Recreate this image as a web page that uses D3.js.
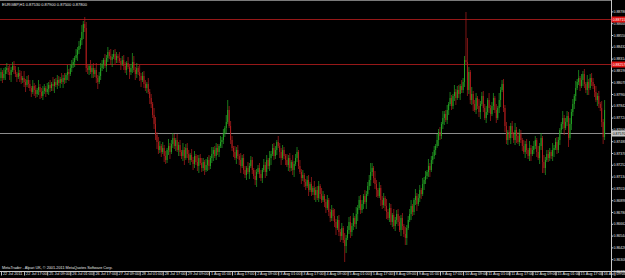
<!DOCTYPE html>
<html><head><meta charset="utf-8">
<script src="https://cdn.jsdelivr.net/npm/d3@7"></script>
<style>html,body{margin:0;padding:0;background:#000;overflow:hidden}svg{display:block}</style>
</head><body><svg id="c" width="625" height="278"></svg>
<script>
const symbolTitle = "EURGBP,H1  0.87530 0.87900 0.87500 0.87800";
const copyright = "MetaTrader - Alpari UK, \u00A9 2001-2011 MetaQuotes Software Corp.";
const openP = [0.8812,0.8818,0.8812,0.8816,0.8820,0.8822,0.8818,0.8815,0.8820,0.8824,
0.8820,0.8816,0.8813,0.8817,0.8814,0.8810,0.8812,0.8808,0.8805,0.8810,
0.8806,0.8802,0.8798,0.8804,0.8800,0.8796,0.8800,0.8803,0.8798,0.8794,
0.8799,0.8802,0.8798,0.8801,0.8805,0.8802,0.8806,0.8804,0.8808,0.8805,
0.8810,0.8807,0.8811,0.8808,0.8812,0.8810,0.8815,0.8818,0.8816,0.8822,
0.8825,0.8828,0.8832,0.8835,0.8840,0.8844,0.8850,0.8858,0.8866,0.8862,
0.8822,0.8820,0.8824,0.8818,0.8822,0.8816,0.8820,0.8812,0.8808,0.8814,
0.8822,0.8826,0.8830,0.8824,0.8832,0.8838,0.8834,0.8830,0.8833,0.8836,
0.8830,0.8834,0.8832,0.8829,0.8826,0.8830,0.8824,0.8820,0.8827,0.8823,
0.8818,0.8822,0.8828,0.8820,0.8816,0.8822,0.8818,0.8814,0.8810,0.8814,
0.8806,0.8802,0.8806,0.8798,0.8792,0.8786,0.8775,0.8766,0.8755,0.8748,
0.8740,0.8744,0.8738,0.8742,0.8734,0.8730,0.8740,0.8744,0.8738,0.8746,
0.8752,0.8744,0.8750,0.8740,0.8745,0.8738,0.8734,0.8740,0.8732,0.8742,
0.8736,0.8730,0.8735,0.8730,0.8726,0.8734,0.8728,0.8724,0.8732,0.8727,
0.8722,0.8728,0.8720,0.8725,0.8730,0.8724,0.8732,0.8736,0.8740,0.8734,
0.8742,0.8738,0.8744,0.8748,0.8750,0.8756,0.8762,0.8768,0.8780,0.8764,
0.8750,0.8742,0.8738,0.8732,0.8740,0.8734,0.8730,0.8724,0.8732,0.8720,
0.8715,0.8722,0.8718,0.8724,0.8730,0.8720,0.8714,0.8710,0.8718,0.8722,
0.8716,0.8712,0.8720,0.8725,0.8718,0.8730,0.8724,0.8732,0.8736,0.8742,
0.8734,0.8740,0.8748,0.8744,0.8738,0.8732,0.8740,0.8734,0.8730,0.8725,
0.8732,0.8722,0.8728,0.8720,0.8726,0.8732,0.8738,0.8724,0.8718,0.8712,
0.8715,0.8708,0.8704,0.8710,0.8700,0.8706,0.8698,0.8702,0.8695,0.8700,
0.8692,0.8704,0.8696,0.8690,0.8694,0.8688,0.8682,0.8690,0.8678,0.8672,
0.8680,0.8674,0.8668,0.8662,0.8670,0.8658,0.8654,0.8662,0.8650,0.8644,
0.8652,0.8660,0.8668,0.8658,0.8664,0.8672,0.8666,0.8676,0.8682,0.8690,
0.8680,0.8686,0.8694,0.8688,0.8696,0.8704,0.8710,0.8718,0.8722,0.8712,
0.8706,0.8700,0.8694,0.8702,0.8690,0.8685,0.8692,0.8684,0.8678,0.8672,
0.8682,0.8668,0.8675,0.8664,0.8670,0.8676,0.8668,0.8660,0.8672,0.8664,
0.8656,0.8652,0.8662,0.8670,0.8676,0.8684,0.8678,0.8690,0.8694,0.8686,
0.8692,0.8700,0.8696,0.8706,0.8710,0.8714,0.8718,0.8724,0.8720,0.8730,
0.8734,0.8740,0.8744,0.8750,0.8758,0.8754,0.8766,0.8772,0.8776,0.8770,
0.8780,0.8786,0.8792,0.8784,0.8794,0.8798,0.8792,0.8800,0.8796,0.8804,
0.8800,0.8808,0.8830,0.8828,0.8800,0.8818,0.8790,0.8796,0.8786,0.8780,
0.8792,0.8784,0.8778,0.8786,0.8794,0.8782,0.8772,0.8778,0.8790,0.8782,
0.8776,0.8784,0.8792,0.8780,0.8772,0.8782,0.8790,0.8800,0.8806,0.8782,
0.8764,0.8750,0.8758,0.8752,0.8764,0.8756,0.8750,0.8760,0.8754,0.8748,
0.8756,0.8750,0.8744,0.8738,0.8746,0.8740,0.8734,0.8742,0.8736,0.8740,
0.8744,0.8750,0.8738,0.8732,0.8744,0.8752,0.8728,0.8722,0.8730,0.8736,
0.8732,0.8738,0.8734,0.8740,0.8742,0.8748,0.8740,0.8750,0.8760,0.8766,
0.8772,0.8762,0.8768,0.8774,0.8752,0.8766,0.8778,0.8786,0.8794,0.8802,
0.8808,0.8812,0.8804,0.8810,0.8816,0.8806,0.8800,0.8808,0.8802,0.8812,
0.8808,0.8804,0.8798,0.8790,0.8794,0.8786,0.8782,0.8768,0.8753];
const highP = [0.8822,0.8820,0.8822,0.8823,0.8827,0.8824,0.8825,0.8823,0.8828,0.8829,
0.8824,0.8818,0.8823,0.8820,0.8819,0.8814,0.8819,0.8811,0.8814,0.8815,
0.8810,0.8804,0.8810,0.8807,0.8805,0.8802,0.8810,0.8806,0.8802,0.8804,
0.8806,0.8804,0.8807,0.8808,0.8810,0.8808,0.8813,0.8811,0.8812,0.8815,
0.8814,0.8813,0.8817,0.8815,0.8817,0.8817,0.8825,0.8821,0.8826,0.8830,
0.8832,0.8834,0.8841,0.8843,0.8849,0.8852,0.8865,0.8869,0.8873,0.8868,
0.8826,0.8826,0.8830,0.8825,0.8827,0.8822,0.8827,0.8815,0.8818,0.8827,
0.8830,0.8832,0.8836,0.8835,0.8843,0.8840,0.8841,0.8836,0.8840,0.8841,
0.8838,0.8836,0.8838,0.8832,0.8834,0.8835,0.8828,0.8829,0.8833,0.8826,
0.8826,0.8837,0.8834,0.8823,0.8827,0.8824,0.8825,0.8817,0.8818,0.8819,
0.8810,0.8808,0.8812,0.8801,0.8796,0.8788,0.8782,0.8773,0.8758,0.8753,
0.8749,0.8746,0.8748,0.8745,0.8739,0.8742,0.8751,0.8747,0.8750,0.8757,
0.8756,0.8752,0.8756,0.8748,0.8750,0.8740,0.8747,0.8743,0.8746,0.8747,
0.8740,0.8737,0.8741,0.8733,0.8739,0.8736,0.8735,0.8735,0.8736,0.8732,
0.8732,0.8730,0.8731,0.8733,0.8735,0.8734,0.8743,0.8743,0.8744,0.8747,
0.8746,0.8746,0.8754,0.8753,0.8761,0.8764,0.8775,0.8790,0.8784,0.8769,
0.8754,0.8744,0.8744,0.8743,0.8745,0.8736,0.8737,0.8735,0.8736,0.8724,
0.8724,0.8728,0.8727,0.8734,0.8733,0.8722,0.8720,0.8721,0.8725,0.8727,
0.8720,0.8722,0.8731,0.8728,0.8735,0.8732,0.8739,0.8739,0.8746,0.8747,
0.8744,0.8750,0.8754,0.8747,0.8742,0.8745,0.8743,0.8736,0.8736,0.8735,
0.8737,0.8730,0.8735,0.8729,0.8736,0.8743,0.8740,0.8730,0.8721,0.8720,
0.8717,0.8711,0.8714,0.8715,0.8708,0.8713,0.8704,0.8709,0.8703,0.8704,
0.8709,0.8706,0.8702,0.8699,0.8696,0.8691,0.8695,0.8692,0.8681,0.8685,
0.8682,0.8681,0.8671,0.8674,0.8675,0.8661,0.8667,0.8664,0.8657,0.8655,
0.8664,0.8673,0.8674,0.8667,0.8677,0.8674,0.8683,0.8685,0.8694,0.8695,
0.8690,0.8696,0.8700,0.8699,0.8708,0.8715,0.8727,0.8727,0.8724,0.8719,
0.8710,0.8702,0.8708,0.8705,0.8694,0.8697,0.8694,0.8691,0.8681,0.8687,
0.8686,0.8677,0.8681,0.8673,0.8680,0.8681,0.8674,0.8675,0.8677,0.8666,
0.8663,0.8665,0.8674,0.8681,0.8690,0.8686,0.8692,0.8701,0.8697,0.8696,
0.8705,0.8702,0.8712,0.8713,0.8719,0.8720,0.8731,0.8727,0.8734,0.8738,
0.8744,0.8746,0.8756,0.8761,0.8763,0.8768,0.8779,0.8779,0.8780,0.8785,
0.8788,0.8798,0.8795,0.8796,0.8805,0.8801,0.8804,0.8805,0.8806,0.8810,
0.8812,0.8834,0.8878,0.8852,0.8823,0.8820,0.8803,0.8799,0.8790,0.8797,
0.8794,0.8791,0.8789,0.8798,0.8799,0.8786,0.8784,0.8792,0.8797,0.8785,
0.8788,0.8797,0.8794,0.8786,0.8784,0.8797,0.8803,0.8810,0.8811,0.8785,
0.8768,0.8760,0.8764,0.8767,0.8769,0.8758,0.8767,0.8763,0.8758,0.8761,
0.8760,0.8752,0.8750,0.8749,0.8751,0.8742,0.8749,0.8745,0.8744,0.8749,
0.8754,0.8752,0.8744,0.8747,0.8757,0.8754,0.8735,0.8733,0.8740,0.8740,
0.8742,0.8740,0.8747,0.8745,0.8752,0.8753,0.8753,0.8762,0.8768,0.8779,
0.8775,0.8772,0.8779,0.8778,0.8772,0.8781,0.8791,0.8796,0.8809,0.8811,
0.8820,0.8814,0.8816,0.8819,0.8821,0.8808,0.8815,0.8811,0.8816,0.8817,
0.8812,0.8806,0.8804,0.8797,0.8799,0.8788,0.8789,0.8771,0.8790];
const lowP = [0.8809,0.8807,0.8810,0.8810,0.8816,0.8815,0.8810,0.8808,0.8818,0.8816,
0.8813,0.8808,0.8811,0.8808,0.8806,0.8807,0.8803,0.8798,0.8803,0.8802,
0.8799,0.8793,0.8796,0.8794,0.8792,0.8793,0.8795,0.8791,0.8792,0.8790,
0.8796,0.8793,0.8796,0.8795,0.8798,0.8799,0.8799,0.8797,0.8803,0.8801,
0.8804,0.8802,0.8806,0.8802,0.8806,0.8807,0.8810,0.8809,0.8814,0.8818,
0.8822,0.8823,0.8830,0.8829,0.8836,0.8841,0.8845,0.8851,0.8858,0.8818,
0.8816,0.8815,0.8816,0.8812,0.8812,0.8813,0.8807,0.8801,0.8806,0.8810,
0.8819,0.8821,0.8822,0.8818,0.8828,0.8831,0.8825,0.8823,0.8831,0.8826,
0.8827,0.8827,0.8827,0.8820,0.8824,0.8820,0.8817,0.8815,0.8821,0.8811,
0.8815,0.8817,0.8818,0.8810,0.8812,0.8815,0.8809,0.8803,0.8808,0.8802,
0.8799,0.8797,0.8796,0.8786,0.8782,0.8772,0.8761,0.8750,0.8741,0.8736,
0.8737,0.8733,0.8736,0.8728,0.8726,0.8727,0.8735,0.8731,0.8736,0.8742,
0.8741,0.8739,0.8738,0.8734,0.8734,0.8731,0.8729,0.8725,0.8730,0.8732,
0.8727,0.8725,0.8728,0.8720,0.8722,0.8725,0.8719,0.8717,0.8725,0.8718,
0.8719,0.8715,0.8718,0.8719,0.8720,0.8721,0.8727,0.8729,0.8732,0.8730,
0.8735,0.8733,0.8742,0.8742,0.8746,0.8753,0.8757,0.8766,0.8762,0.8746,
0.8739,0.8733,0.8730,0.8726,0.8731,0.8725,0.8717,0.8722,0.8716,0.8712,
0.8710,0.8716,0.8711,0.8722,0.8716,0.8711,0.8705,0.8703,0.8716,0.8712,
0.8709,0.8707,0.8718,0.8712,0.8714,0.8721,0.8719,0.8725,0.8734,0.8730,
0.8731,0.8735,0.8742,0.8732,0.8725,0.8730,0.8731,0.8725,0.8723,0.8719,
0.8718,0.8719,0.8715,0.8713,0.8724,0.8728,0.8721,0.8716,0.8706,0.8709,
0.8703,0.8700,0.8702,0.8694,0.8698,0.8694,0.8695,0.8690,0.8688,0.8690,
0.8688,0.8691,0.8687,0.8688,0.8683,0.8677,0.8680,0.8674,0.8668,0.8669,
0.8669,0.8663,0.8655,0.8660,0.8654,0.8648,0.8650,0.8647,0.8628,0.8637,
0.8650,0.8656,0.8652,0.8654,0.8660,0.8663,0.8661,0.8669,0.8680,0.8676,
0.8677,0.8681,0.8686,0.8681,0.8694,0.8700,0.8704,0.8714,0.8707,0.8701,
0.8693,0.8692,0.8692,0.8684,0.8681,0.8682,0.8679,0.8671,0.8670,0.8668,
0.8665,0.8663,0.8661,0.8659,0.8666,0.8664,0.8658,0.8654,0.8660,0.8653,
0.8645,0.8645,0.8660,0.8668,0.8670,0.8674,0.8675,0.8685,0.8679,0.8684,
0.8688,0.8691,0.8694,0.8700,0.8706,0.8711,0.8713,0.8713,0.8718,0.8726,
0.8731,0.8735,0.8742,0.8744,0.8750,0.8751,0.8761,0.8765,0.8768,0.8766,
0.8775,0.8784,0.8780,0.8781,0.8789,0.8785,0.8790,0.8792,0.8790,0.8797,
0.8797,0.8803,0.8826,0.8794,0.8796,0.8786,0.8785,0.8779,0.8778,0.8776,
0.8781,0.8773,0.8771,0.8784,0.8778,0.8770,0.8767,0.8775,0.8777,0.8769,
0.8774,0.8780,0.8777,0.8767,0.8770,0.8777,0.8783,0.8798,0.8778,0.8758,
0.8746,0.8745,0.8750,0.8746,0.8752,0.8747,0.8745,0.8747,0.8746,0.8744,
0.8747,0.8739,0.8736,0.8732,0.8736,0.8731,0.8729,0.8729,0.8734,0.8736,
0.8741,0.8733,0.8730,0.8726,0.8740,0.8717,0.8717,0.8715,0.8728,0.8728,
0.8729,0.8731,0.8729,0.8733,0.8740,0.8736,0.8737,0.8745,0.8757,0.8761,
0.8755,0.8760,0.8764,0.8743,0.8750,0.8760,0.8774,0.8781,0.8789,0.8800,
0.8805,0.8799,0.8802,0.8804,0.8802,0.8797,0.8795,0.8795,0.8800,0.8804,
0.8801,0.8793,0.8788,0.8784,0.8782,0.8779,0.8763,0.8746,0.8750];
const closeP = [0.8818,0.8812,0.8816,0.8820,0.8822,0.8818,0.8815,0.8820,0.8824,0.8820,
0.8816,0.8813,0.8817,0.8814,0.8810,0.8812,0.8808,0.8805,0.8810,0.8806,
0.8802,0.8798,0.8804,0.8800,0.8796,0.8800,0.8803,0.8798,0.8794,0.8799,
0.8802,0.8798,0.8801,0.8805,0.8802,0.8806,0.8804,0.8808,0.8805,0.8810,
0.8807,0.8811,0.8808,0.8812,0.8810,0.8815,0.8818,0.8816,0.8822,0.8825,
0.8828,0.8832,0.8835,0.8840,0.8844,0.8850,0.8858,0.8866,0.8862,0.8822,
0.8820,0.8824,0.8818,0.8822,0.8816,0.8820,0.8812,0.8808,0.8814,0.8822,
0.8826,0.8830,0.8824,0.8832,0.8838,0.8834,0.8830,0.8833,0.8836,0.8830,
0.8834,0.8832,0.8829,0.8826,0.8830,0.8824,0.8820,0.8827,0.8823,0.8818,
0.8822,0.8828,0.8820,0.8816,0.8822,0.8818,0.8814,0.8810,0.8814,0.8806,
0.8802,0.8806,0.8798,0.8792,0.8786,0.8775,0.8766,0.8755,0.8748,0.8740,
0.8744,0.8738,0.8742,0.8734,0.8730,0.8740,0.8744,0.8738,0.8746,0.8752,
0.8744,0.8750,0.8740,0.8745,0.8738,0.8734,0.8740,0.8732,0.8742,0.8736,
0.8730,0.8735,0.8730,0.8726,0.8734,0.8728,0.8724,0.8732,0.8727,0.8722,
0.8728,0.8720,0.8725,0.8730,0.8724,0.8732,0.8736,0.8740,0.8734,0.8742,
0.8738,0.8744,0.8748,0.8750,0.8756,0.8762,0.8768,0.8780,0.8764,0.8750,
0.8742,0.8738,0.8732,0.8740,0.8734,0.8730,0.8724,0.8732,0.8720,0.8715,
0.8722,0.8718,0.8724,0.8730,0.8720,0.8714,0.8710,0.8718,0.8722,0.8716,
0.8712,0.8720,0.8725,0.8718,0.8730,0.8724,0.8732,0.8736,0.8742,0.8734,
0.8740,0.8748,0.8744,0.8738,0.8732,0.8740,0.8734,0.8730,0.8725,0.8732,
0.8722,0.8728,0.8720,0.8726,0.8732,0.8738,0.8724,0.8718,0.8712,0.8715,
0.8708,0.8704,0.8710,0.8700,0.8706,0.8698,0.8702,0.8695,0.8700,0.8692,
0.8704,0.8696,0.8690,0.8694,0.8688,0.8682,0.8690,0.8678,0.8672,0.8680,
0.8674,0.8668,0.8662,0.8670,0.8658,0.8654,0.8662,0.8650,0.8644,0.8652,
0.8660,0.8668,0.8658,0.8664,0.8672,0.8666,0.8676,0.8682,0.8690,0.8680,
0.8686,0.8694,0.8688,0.8696,0.8704,0.8710,0.8718,0.8722,0.8712,0.8706,
0.8700,0.8694,0.8702,0.8690,0.8685,0.8692,0.8684,0.8678,0.8672,0.8682,
0.8668,0.8675,0.8664,0.8670,0.8676,0.8668,0.8660,0.8672,0.8664,0.8656,
0.8652,0.8662,0.8670,0.8676,0.8684,0.8678,0.8690,0.8694,0.8686,0.8692,
0.8700,0.8696,0.8706,0.8710,0.8714,0.8718,0.8724,0.8720,0.8730,0.8734,
0.8740,0.8744,0.8750,0.8758,0.8754,0.8766,0.8772,0.8776,0.8770,0.8780,
0.8786,0.8792,0.8784,0.8794,0.8798,0.8792,0.8800,0.8796,0.8804,0.8800,
0.8808,0.8830,0.8828,0.8800,0.8818,0.8790,0.8796,0.8786,0.8780,0.8792,
0.8784,0.8778,0.8786,0.8794,0.8782,0.8772,0.8778,0.8790,0.8782,0.8776,
0.8784,0.8792,0.8780,0.8772,0.8782,0.8790,0.8800,0.8806,0.8782,0.8764,
0.8750,0.8758,0.8752,0.8764,0.8756,0.8750,0.8760,0.8754,0.8748,0.8756,
0.8750,0.8744,0.8738,0.8746,0.8740,0.8734,0.8742,0.8736,0.8740,0.8744,
0.8750,0.8738,0.8732,0.8744,0.8752,0.8728,0.8722,0.8730,0.8736,0.8732,
0.8738,0.8734,0.8740,0.8742,0.8748,0.8740,0.8750,0.8760,0.8766,0.8772,
0.8762,0.8768,0.8774,0.8752,0.8766,0.8778,0.8786,0.8794,0.8802,0.8808,
0.8812,0.8804,0.8810,0.8816,0.8806,0.8800,0.8808,0.8802,0.8812,0.8808,
0.8804,0.8798,0.8790,0.8794,0.8786,0.8782,0.8768,0.8753,0.8780];

const timeTickIndex = [0,16,32,48,64,80,96,112,128,144,160,176,192,208,224,240,256,272,288,304,320,336,352,368,384,400,416];
const timeLabels = ["22 Jul 2011","22 Jul 17:00","25 Jul 09:00","26 Jul 01:00","26 Jul 17:00","27 Jul 09:00","28 Jul 01:00","28 Jul 17:00","29 Jul 09:00","1 Aug 01:00","1 Aug 17:00","2 Aug 09:00","3 Aug 01:00","3 Aug 17:00","4 Aug 09:00","5 Aug 01:00","5 Aug 17:00","8 Aug 09:00","9 Aug 01:00","9 Aug 17:00","10 Aug 09:00","11 Aug 01:00","11 Aug 17:00","12 Aug 09:00","15 Aug 01:00","15 Aug 17:00","16 Aug 09:00"];
const priceTicks = [0.86190,0.86308,0.86426,0.86544,0.86662,0.86780,0.86898,0.87016,0.87134,0.87252,0.87370,0.87488,0.87606,0.87724,0.87842,0.87960,0.88078,0.88196,0.88314,0.88432,0.88550,0.88668,0.88786];
const redLevels = [0.88715, 0.88257];
const bidLevel = 0.87570;

const FONT = "'Liberation Sans', Arial, sans-serif";
const svg = d3.select("#c");
const plotR = 611.5, plotB = 271.5;
const x = d3.scaleLinear().domain([0, closeP.length - 1]).range([1, 604.6]);
const y = d3.scaleLinear().domain([0.8619, 0.8890]).range([271, 0]);

svg.append("rect").attr("width", 625).attr("height", 278).attr("fill", "#000");
svg.append("defs").append("clipPath").attr("id", "pc")
  .append("rect").attr("x", 0).attr("y", 0).attr("width", plotR).attr("height", plotB);

const bars = closeP.map((c, i) => ({i, o: openP[i], h: highP[i], l: lowP[i], c}));
const UP = "#25a825", DOWN = "#b41e1e";
const g = svg.append("g").attr("clip-path", "url(#pc)");

// horizontal level lines
g.selectAll("line.red").data(redLevels).join("line")
  .attr("x1", 0).attr("x2", plotR).attr("y1", d => Math.round(y(d)) + 0.5).attr("y2", d => Math.round(y(d)) + 0.5)
  .attr("stroke", "#961818").attr("stroke-width", 1);
g.append("line").attr("x1", 0).attr("x2", plotR)
  .attr("y1", Math.round(y(bidLevel)) + 0.5).attr("y2", Math.round(y(bidLevel)) + 0.5)
  .attr("stroke", "#8c8c8c").attr("stroke-width", 1);

const cg = g.selectAll("g.bar").data(bars).join("g");
cg.append("line")
  .attr("x1", d => x(d.i)).attr("x2", d => x(d.i))
  .attr("y1", d => y(d.h)).attr("y2", d => y(d.l))
  .attr("stroke", d => d.c >= d.o ? UP : DOWN).attr("stroke-width", 0.7);
cg.append("rect")
  .attr("x", d => x(d.i) - 0.45).attr("width", 0.9)
  .attr("y", d => y(Math.max(d.o, d.c)))
  .attr("height", d => Math.max(0.8, Math.abs(y(d.o) - y(d.c))))
  .attr("fill", d => d.c >= d.o ? UP : DOWN);

// frame
svg.append("line").attr("x1", 0).attr("x2", plotR).attr("y1", 0.5).attr("y2", 0.5).attr("stroke", "#7a7a7a");
svg.append("line").attr("x1", plotR).attr("x2", plotR).attr("y1", 0).attr("y2", 278).attr("stroke", "#c8c8c8");
svg.append("line").attr("x1", 0).attr("x2", 625).attr("y1", plotB).attr("y2", plotB).attr("stroke", "#c8c8c8");

// right price axis
const ya = svg.append("g").attr("transform", `translate(${plotR},0)`)
  .call(d3.axisRight(y).tickValues(priceTicks).tickSize(1.5).tickPadding(0.5).tickFormat(d3.format(".5f")));
ya.select(".domain").remove();
ya.selectAll(".tick line").attr("stroke", "#c8c8c8");
ya.selectAll(".tick text").attr("fill", "#e6e6e6").style("font", `3.5px ${FONT}`);

// bottom time axis
const xa = svg.append("g").attr("transform", `translate(0,${plotB})`)
  .call(d3.axisBottom(x).tickValues(timeTickIndex).tickSize(4).tickFormat((d, k) => timeLabels[k]));
xa.select(".domain").remove();
xa.selectAll(".tick line").attr("stroke", "#c8c8c8");
xa.selectAll(".tick text").attr("fill", "#e6e6e6").attr("text-anchor", "start")
  .attr("x", 1.5).attr("y", 1.2).style("font", `3.8px ${FONT}`);

// level labels
const rl = svg.selectAll("g.rl").data(redLevels).join("g")
  .attr("transform", d => `translate(${plotR},${Math.round(y(d)) + 0.5})`);
rl.append("rect").attr("x", 0).attr("y", -3).attr("width", 13.5).attr("height", 6).attr("fill", "#e01010");
rl.append("text").attr("x", 1.2).attr("y", 1.3).attr("fill", "#fff").style("font", `3.5px ${FONT}`)
  .text(d => d3.format(".5f")(d));
const bl = svg.append("g").attr("transform", `translate(${plotR},${Math.round(y(bidLevel)) + 0.5})`);
bl.append("rect").attr("x", 0).attr("y", -3).attr("width", 13.5).attr("height", 6).attr("fill", "#c8c8c8");
bl.append("text").attr("x", 1.2).attr("y", 1.3).attr("fill", "#000").style("font", `3.5px ${FONT}`)
  .text(d3.format(".5f")(bidLevel));

// texts
svg.append("text").attr("x", 2).attr("y", 5.5).attr("fill", "#e6e6e6").style("font", `4px ${FONT}`).text(symbolTitle);
svg.append("text").attr("x", 2).attr("y", 269).attr("fill", "#e6e6e6").style("font", `3.8px ${FONT}`).text(copyright);
</script></body></html>
